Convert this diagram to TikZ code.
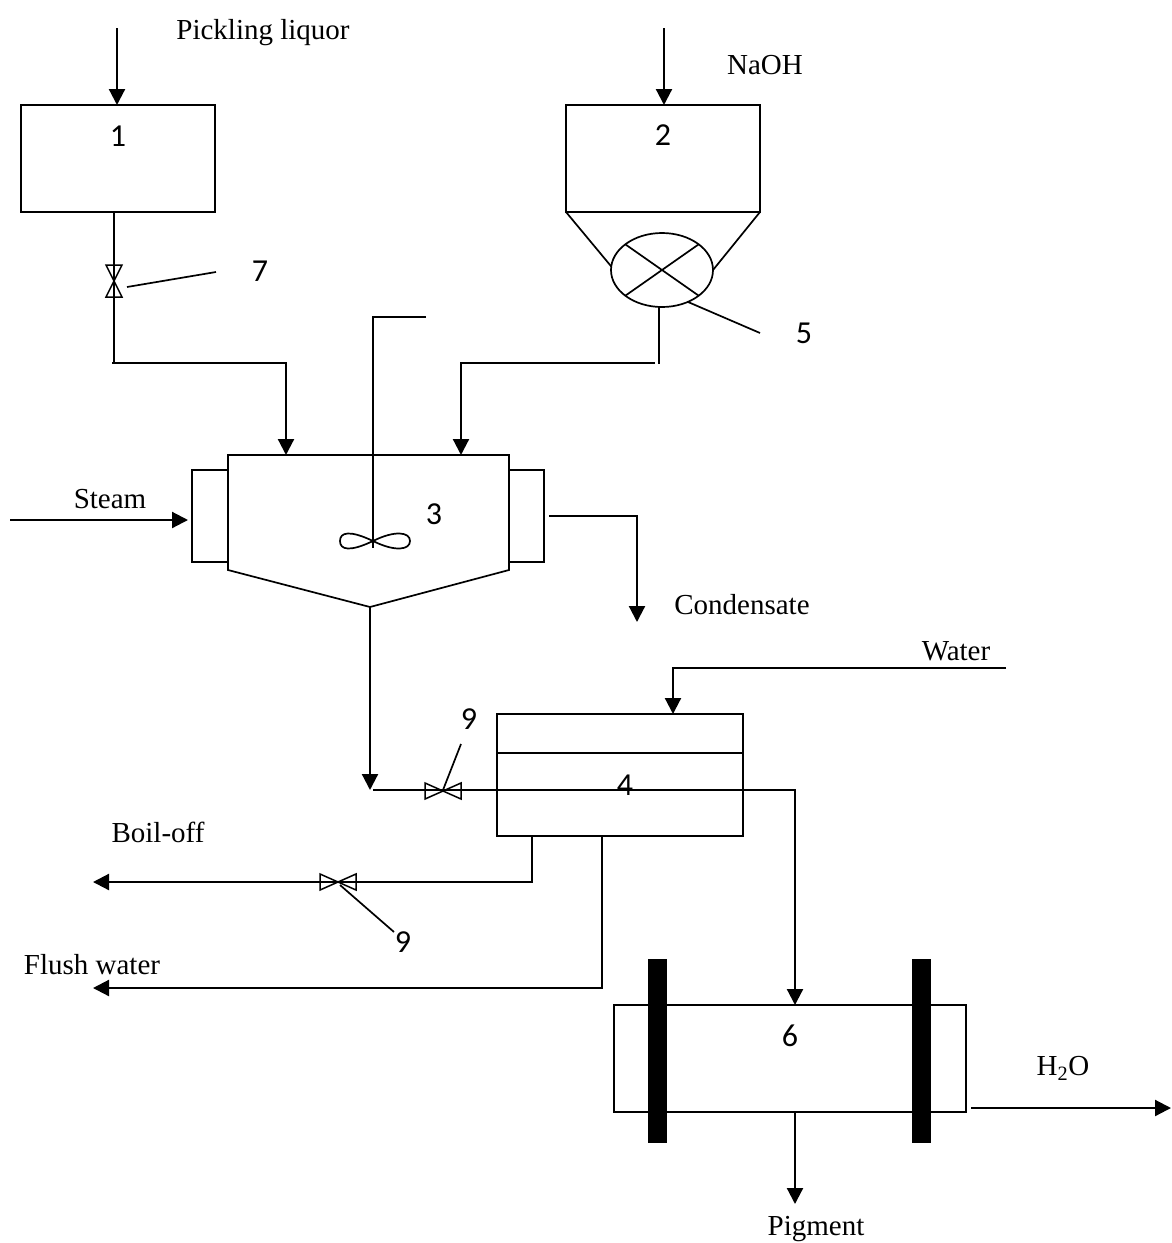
\documentclass[tikz,border=0pt]{standalone}
\usepackage{fontspec}
\setmainfont{Liberation Serif}
\newfontfamily\numfont{Carlito}
\usetikzlibrary{arrows.meta, shapes.geometric}

\begin{document}
\begin{tikzpicture}[
    x=1pt, y=-1pt,
    line width=1.7pt,
    tank/.style={rectangle, draw, inner sep=0pt, outer sep=0pt, anchor=north west},
    bar/.style={rectangle, fill=black, inner sep=0pt, minimum width=19pt, minimum height=184pt},
    txt/.style={font=\fontsize{29}{32}\selectfont, inner sep=0pt},
    num/.style={font=\numfont\fontsize{32}{36}\selectfont, inner sep=0pt},
    arrow/.style={-{Triangle[length=16pt, width=16pt]}, line width=2.2pt},
    pipe/.style={line width=1.7pt},
    valveh/.pic={\draw[line width=1.5pt] (-18,-8) -- (18,8) -- (18,-8) -- (-18,8) -- cycle;},
    valvev/.pic={\draw[line width=1.5pt] (-8,-16) -- (8,16) -- (-8,16) -- (8,-16) -- cycle;}
]
\useasboundingbox (0,0) rectangle (1171,1243);

% Feed tanks
\node[tank, minimum width=194pt, minimum height=107pt] (tank1) at (21,105) {};
\node[num] (n1) at (118,136) {1};
\node[tank, minimum width=194pt, minimum height=107pt] (tank2) at (566,105) {};
\node[num] (n2) at (663,135) {2};

% Feed streams
\node[txt] (pickling) at (263,33) {Pickling liquor};
\node[txt] (naoh) at (765,65) {NaOH};
\coordinate (pick_in) at (117,28);
\coordinate (naoh_in) at (664,28);
\draw[arrow] (pick_in) -- (pick_in |- tank1.north);
\draw[arrow] (naoh_in) -- (naoh_in |- tank2.north);

% Hopper and rotary feeder
\node[ellipse, draw, inner sep=0pt, outer sep=0pt, minimum width=102pt, minimum height=74pt] (feeder) at (662,270) {};
\draw (tank2.south west) -- (feeder.176);
\draw (tank2.south east) -- (feeder.0);
\draw (feeder.145) -- (feeder.-35);
\draw (feeder.35) -- (feeder.-145);
\node[num] (n5) at (804,333) {5};
\coordinate (lead5) at (760,333);
\draw (feeder.-51) -- (lead5);

% Reactor
\coordinate (r_tl) at (228,455);
\coordinate (r_tr) at (509,455);
\coordinate (r_br) at (509,570);
\coordinate (r_bot) at (370,607);
\coordinate (r_bl) at (228,570);
\draw (r_tl) -- (r_tr) -- (r_br) -- (r_bot) -- (r_bl) -- cycle;
\draw (228,470) -- (192,470) -- (192,562) -- (228,562);
\draw (509,470) -- (544,470) -- (544,562) -- (509,562);
\node[num] (n3) at (434,514) {3};

% Agitator
\coordinate (shaft_end) at (426,317);
\coordinate (shaft_top) at (373,317);
\coordinate (hub) at (373,541);
\draw (shaft_end) -- (shaft_top) -- (373,548);
\draw (hub) .. controls (350,530) and (340,532) .. (340,541) .. controls (340,550) and (350,552) .. (hub)
      .. controls (395,530) and (410,532) .. (410,541) .. controls (410,550) and (395,552) .. (hub);

% Line to reactor from tank 1
\coordinate (t1_out) at (114,211);
\coordinate (t1_bend) at (114,363);
\coordinate (r_in1) at (286,455);
\draw[pipe] (t1_out) -- (t1_bend);
\draw[arrow] (112,363) -- (286,363) -- (r_in1);
\pic at (114,281) {valvev};
\node[num] (n7) at (260,271) {7};
\coordinate (lead7) at (216,272);
\coordinate (lead7b) at (127,287);
\draw (lead7b) -- (lead7);

% Line to reactor from feeder
\coordinate (f_out) at (659,307);
\coordinate (r_in2) at (461,455);
\draw (f_out) -- (659,364);
\draw[arrow] (655,363) -- (461,363) -- (r_in2);

% Steam and condensate
\node[txt] (steam) at (110,499) {Steam};
\coordinate (steam_in) at (10,520);
\coordinate (jacket_in) at (188,520);
\draw[arrow] (steam_in) -- (jacket_in);
\node[txt] (condensate) at (742,605) {Condensate};
\coordinate (cond_start) at (549,516);
\coordinate (cond_end) at (637,622);
\draw[arrow] (cond_start) -- (637,516) -- (cond_end);

% Washer
\node[tank, minimum width=246pt, minimum height=122pt] (washer) at (497,714) {};
\draw (washer.west |- 0,753) -- (washer.east |- 0,753);
\node[num] (n4) at (625,785) {4};
\node[txt] (water) at (956,651) {Water};
\coordinate (water_in) at (1006,668);
\coordinate (water_bend) at (673,668);
\draw[arrow] (water_in) -- (water_bend) -- (water_bend |- washer.north);

% Reactor outlet and slurry line
\coordinate (drop) at (370,790);
\draw[arrow] (r_bot) -- (drop);
\coordinate (slurry) at (373,790);
\coordinate (slurry_bend) at (795,790);
\pic at (443,791) {valveh};
\node[num] (n9a) at (469,719) {9};
\coordinate (lead9a) at (461,744);
\coordinate (valve9a) at (443,790);
\draw (lead9a) -- (valve9a);

% Filter press
\node[tank, minimum width=352pt, minimum height=107pt] (filter) at (614,1005) {};
\node[bar] (bar1) at (657.5,1051) {};
\node[bar] (bar2) at (921.5,1051) {};
\node[num] (n6) at (790,1036) {6};
\draw[arrow] (slurry) -- (slurry_bend) -- (slurry_bend |- filter.north);

% Boil-off and flush water
\node[txt] (boiloff) at (158,832) {Boil-off};
\coordinate (boil_start) at (532,836);
\coordinate (boil_end) at (93,882);
\draw[arrow] (boil_start) -- (532,882) -- (boil_end);
\pic at (338,882) {valveh};
\node[num] (n9b) at (403,942) {9};
\coordinate (lead9b) at (394,932);
\coordinate (valve9b) at (340,885);
\draw (lead9b) -- (valve9b);
\node[txt] (flush) at (92,965) {Flush water};
\coordinate (flush_start) at (602,836);
\coordinate (flush_end) at (93,988);
\draw[arrow] (flush_start) -- (602,988) -- (flush_end);

% Products
\node[txt] (water_out) at (1063,1068) {H\textsubscript{2}O};
\coordinate (h2o_start) at (971,1108);
\coordinate (h2o_end) at (1171,1108);
\draw[arrow] (h2o_start) -- (h2o_end);
\node[txt] (pigment) at (816,1229) {Pigment};
\coordinate (pig_end) at (795,1204);
\draw[arrow] (pig_end |- filter.south) -- (pig_end);

\end{tikzpicture}
\end{document}
